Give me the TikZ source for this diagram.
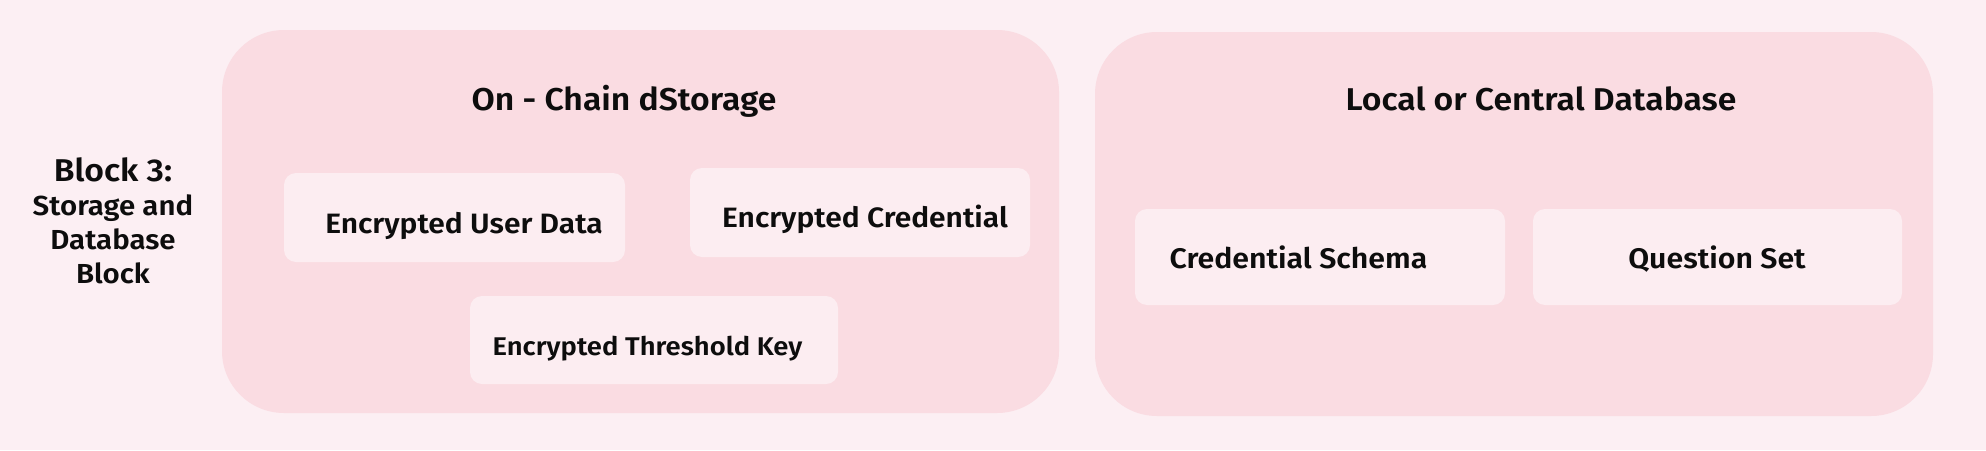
\documentclass[tikz,border=0pt]{standalone}
\usepackage{fontspec}
\setmainfont{Fira Sans}[UprightFont={* SemiBold}, FakeStretch=1.07]
\definecolor{pagebg}{HTML}{FCEFF3}
\definecolor{panelpink}{HTML}{FADCE2}
\definecolor{itempink}{HTML}{FCEDF1}
\definecolor{ink}{HTML}{0D0D0D}
\tikzset{
  panel/.style={fill=panelpink, rounded corners=62pt, inner sep=0pt},
  item/.style={fill=itempink, rounded corners=12pt, inner sep=0pt},
  paneltitle/.style={anchor=base, text=ink, font=\fontsize{31.5}{36}\selectfont},
  itemtext/.style={anchor=base, text=ink, font=\fontsize{28}{32}\selectfont},
}
\begin{document}
\begin{tikzpicture}[x=1pt, y=-1pt, line join=round, line cap=round]
 \fill[pagebg] (0,0) rectangle (1986,450);
 \useasboundingbox (0,0) rectangle (1986,450);
 % block label
 \node[anchor=base, align=center, text=ink, font=\fontsize{27.5}{34}\selectfont] (blk) at (113,283)
   {{\fontsize{31.5}{34}\selectfont Block 3:}\\Storage and\\Database\\Block};
 % panels
 \node[panel, minimum width=837pt, minimum height=383pt] (chain) at (640.5,221.5) {};
 \node[panel, minimum width=838pt, minimum height=384pt] (db) at (1514,224) {};
 \node[paneltitle] (chaintitle) at (624,110) {On - Chain dStorage};
 \node[paneltitle] (dbtitle) at (1541,110) {Local or Central Database};
 % on-chain items
 \node[item, minimum width=341pt, minimum height=89pt] (userdata) at (454.5,217.5) {};
 \node[itemtext] (userdatatext) at (464,233) {Encrypted User Data};
 \node[item, minimum width=340pt, minimum height=89pt] (cred) at (860,212.5) {};
 \node[itemtext] (credtext) at (865,227) {Encrypted Credential};
 \node[item, minimum width=368pt, minimum height=88pt] (thkey) at (654,340) {};
 \node[itemtext, font=\fontsize{25.6}{30}\selectfont] (thkeytext) at (647.5,355) {Encrypted Threshold Key};
 % database items
 \node[item, minimum width=370pt, minimum height=96pt] (schema) at (1320,257) {};
 \node[itemtext, font=\fontsize{28.3}{32}\selectfont] (schematext) at (1298.5,268) {Credential Schema};
 \node[item, minimum width=369pt, minimum height=96pt] (qset) at (1717.5,257) {};
 \node[itemtext, font=\fontsize{28.3}{32}\selectfont] (qsettext) at (1717,268) {Question Set};
\end{tikzpicture}
\end{document}
